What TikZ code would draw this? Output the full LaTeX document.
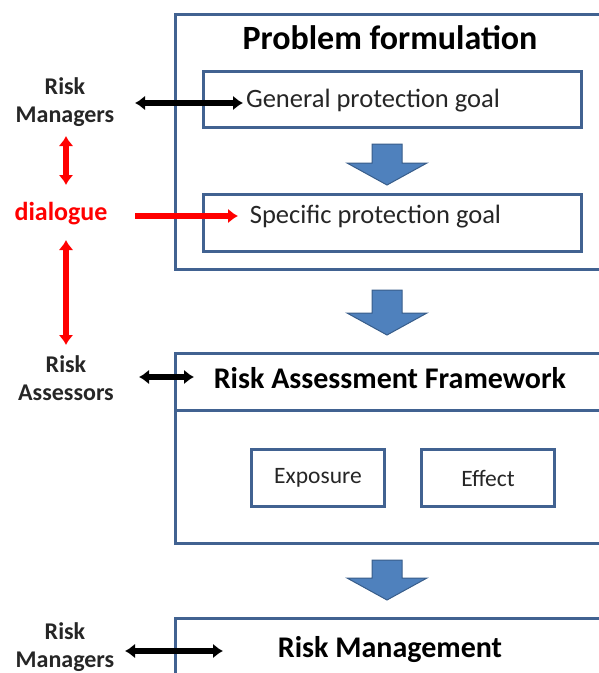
\documentclass[tikz,border=0pt]{standalone}
\usepackage{fontspec}
\setmainfont{Carlito}
\usetikzlibrary{arrows.meta}
\definecolor{boxblue}{RGB}{65,98,145}
\definecolor{arrfill}{RGB}{79,129,189}
\definecolor{arrline}{RGB}{56,93,138}
\definecolor{dred}{RGB}{255,0,0}
\tikzset{
  box/.style={draw=boxblue, line width=3pt, fill=white, inner sep=0pt},
  lbl/.style={align=center, font=\fontsize{24}{28}\selectfont\bfseries, text=black!85, inner sep=0pt},
  dbl/.style={line width=6.5pt, {Latex[length=10pt,width=15pt]}-{Latex[length=10pt,width=15pt]}},
  sgl/.style={line width=6.5pt, -{Latex[length=10pt,width=15pt]}},
  blk/.style={fill=arrfill, draw=arrline, line width=1pt, line join=miter},
}
\newcommand\blockarrow[4]{% x, shaft top, head top, tip
  \path[blk] (#1-15,#2) -- (#1+15,#2) -- (#1+15,#3) -- (#1+40,#3) -- (#1,#4) -- (#1-40,#3) -- (#1-15,#3) -- cycle;}
\begin{document}
\begin{tikzpicture}[x=1pt,y=-1pt]
\useasboundingbox (0,0) rectangle (599,673);
\clip (0,0) rectangle (599,673);
% Problem formulation
\node[box, minimum width=446, minimum height=255, anchor=north west] (pf) at (174,13) {};
\node[font=\fontsize{34}{36}\selectfont\bfseries] (pft) at (390,38) {Problem formulation};
\node[box, minimum width=378, minimum height=56, anchor=north west] (gen) at (202,70) {};
\node[font=\fontsize{26.5}{30}\selectfont, text=black!85] (gent) at (373,101) {General protection goal};
\blockarrow{387}{144}{163}{185}
\node[box, minimum width=378, minimum height=57, anchor=north west] (spec) at (202,193) {};
\node[font=\fontsize{26.5}{30}\selectfont, text=black!85] (spect) at (375.5,217) {Specific protection goal};
\blockarrow{387}{290}{313}{335}
% Risk assessment framework
\node[box, minimum width=446, minimum height=190, anchor=north west] (raf) at (174,352) {};
\draw[boxblue, line width=3pt] (174,410) -- (620,410);
\node[font=\fontsize{30}{33}\selectfont\bfseries] (raft) at (390,378) {Risk Assessment Framework};
\node[box, minimum width=133, minimum height=57, anchor=north west] (exp) at (250,448) {};
\node[font=\fontsize{23.5}{26}\selectfont, text=black!85] at (exp.center) {Exposure};
\node[box, minimum width=133, minimum height=57, anchor=north west] (eff) at (420,448) {};
\node[font=\fontsize{23.5}{26}\selectfont, text=black!85] at (eff.center) {Effect};
\blockarrow{387}{560}{578}{600}
% Risk management
\node[box, minimum width=446, minimum height=80, anchor=north west] (rm) at (174,617) {};
\node[font=\fontsize{30}{33}\selectfont\bfseries] (rmt) at (390,650) {Risk Management};
% Left labels
\node[lbl] (m1) at (65,102) {Risk\\Managers};
\node[lbl, text=dred, font=\fontsize{26}{28}\selectfont\bfseries] (dia) at (61,214) {dialogue};
\node[lbl] (as) at (66,378) {Risk\\Assessors};
\node[lbl] (m2) at (65,647) {Risk\\Managers};
% connectors
\coordinate (a1) at (135,103); \coordinate (b1) at (243,103);
\draw[dbl] (a1) -- (b1);
\coordinate (a2) at (135,216); \coordinate (b2) at (238,216);
\draw[sgl, dred] (a2) -- (b2);
\coordinate (a3) at (139,377); \coordinate (b3) at (194,377);
\draw[dbl] (a3) -- (b3);
\coordinate (a4) at (125,651); \coordinate (b4) at (223,651);
\draw[dbl] (a4) -- (b4);
\coordinate (c1) at (66,136); \coordinate (d1) at (66,185);
\draw[dbl, dred] (c1) -- (d1);
\coordinate (c2) at (66,240); \coordinate (d2) at (66,345);
\draw[dbl, dred] (c2) -- (d2);
\end{tikzpicture}
\end{document}
